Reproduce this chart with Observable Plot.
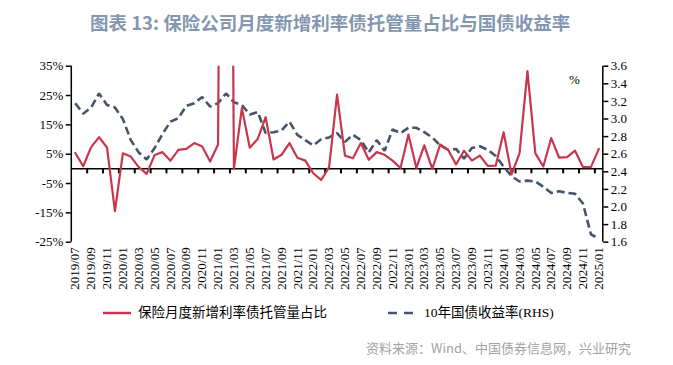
<!DOCTYPE html>
<html><head><meta charset="utf-8">
<script src="https://cdn.jsdelivr.net/npm/d3@7"></script>
<script src="https://cdn.jsdelivr.net/npm/@observablehq/plot@0.6"></script>
<style>
body{margin:0;background:#fff;width:673px;height:365px;position:relative;overflow:hidden;}
#title{position:absolute;left:90px;top:11px;font:bold 18.5px "Noto Sans CJK SC",sans-serif;color:#8397b1;white-space:nowrap;line-height:22px;}
#chart{position:absolute;left:0;top:50px;}
.lt{position:absolute;font:13.5px "Liberation Serif","Noto Sans CJK SC",serif;color:#000;white-space:nowrap;line-height:18px;}
.sw{position:absolute;}
#source{position:absolute;left:366px;top:339px;font:13px "Noto Sans CJK SC",sans-serif;color:#a3a3a3;white-space:nowrap;line-height:18px;}
</style>
</head><body>
<div id="title">图表 13: 保险公司月度新增利率债托管量占比与国债收益率</div>
<div id="chart"></div>
<svg class="sw" style="left:102px;top:304px" width="30" height="18"><line x1="1" y1="9" x2="29" y2="9" stroke="#c8364c" stroke-width="2.5"/></svg>
<div class="lt" style="left:138px;top:304px">保险月度新增利率债托管量占比</div>
<svg class="sw" style="left:387px;top:304px" width="28" height="18"><line x1="1" y1="9" x2="26" y2="9" stroke="#44546a" stroke-width="2.6" stroke-dasharray="9,7"/></svg>
<div class="lt" style="left:424px;top:304px">10年国债收益率(RHS)</div>
<div id="source">资料来源：Wind、中国债券信息网，兴业研究</div>
<script>
const months = ["2019/07","2019/08","2019/09","2019/10","2019/11","2019/12",
"2020/01","2020/02","2020/03","2020/04","2020/05","2020/06","2020/07","2020/08","2020/09","2020/10","2020/11","2020/12",
"2021/01","2021/02","2021/03","2021/04","2021/05","2021/06","2021/07","2021/08","2021/09","2021/10","2021/11","2021/12",
"2022/01","2022/02","2022/03","2022/04","2022/05","2022/06","2022/07","2022/08","2022/09","2022/10","2022/11","2022/12",
"2023/01","2023/02","2023/03","2023/04","2023/05","2023/06","2023/07","2023/08","2023/09","2023/10","2023/11","2023/12",
"2024/01","2024/02","2024/03","2024/04","2024/05","2024/06","2024/07","2024/08","2024/09","2024/10","2024/11","2024/12",
"2025/01"];
// 保险月度新增利率债托管量占比 (%)
const ratio = [5.4,0.9,7.4,10.8,7.3,-14.4,
5.3,4.2,0.6,-1.7,4.7,5.7,2.8,6.5,6.8,8.8,7.6,2.5,
8.3,400,0.0,20.7,7.2,10.2,17.6,3.2,4.8,8.8,3.8,2.8,
-1.5,-3.8,0.6,25.3,4.5,3.6,8.8,3.1,5.7,4.8,2.8,0.3,
11.7,0.3,8.0,0.0,8.3,6.5,1.5,6.2,2.8,4.5,1.0,1.1,
12.5,-1.9,5.3,33.3,5.3,0.8,10.5,3.8,4.0,6.2,0.6,0.6,
6.8];
// 10年国债收益率 (%, RHS)
const yield10 = [3.18,3.06,3.13,3.29,3.16,3.13,
3.00,2.76,2.62,2.54,2.67,2.83,2.97,3.01,3.15,3.18,3.25,3.14,
3.18,3.29,3.19,3.16,3.05,3.08,2.84,2.85,2.87,2.97,2.82,2.76,
2.70,2.77,2.79,2.84,2.74,2.82,2.76,2.62,2.76,2.64,2.88,2.84,
2.90,2.90,2.85,2.79,2.70,2.65,2.66,2.55,2.67,2.69,2.65,2.58,
2.46,2.35,2.29,2.30,2.29,2.23,2.16,2.18,2.16,2.15,2.04,1.69,
1.64];
const leftTicks = [-25,-15,-5,5,15,25,35];
const rightTicks = [1.6,1.8,2.0,2.2,2.4,2.6,2.8,3.0,3.2,3.4,3.6];
const leftDomain = [-25, 35];
const rightDomain = [1.6, 3.6];

const idx = d3.range(months.length);
const toL = d3.scaleLinear().domain(rightDomain).range(leftDomain);
const xDomain = [-0.5, months.length - 0.5];
const labelIdx = idx.filter(i => i % 2 === 0);
const boundaries = idx.filter(i => i % 2 === 1 && i < months.length - 1).map(i => i + 0.5);
const serif = "Liberation Serif, Times New Roman, serif";

const chart = Plot.plot({
  width: 673, height: 250,
  marginTop: 15.7, marginBottom: 58.3, marginLeft: 70.8, marginRight: 70.7,
  x: {type: "linear", domain: xDomain, axis: null},
  y: {domain: leftDomain},
  style: {fontFamily: serif, fontSize: "13px", color: "#000", background: "#fff"},
  marks: [
    Plot.ruleY([0], {stroke: "#000", strokeWidth: 1.5}),
    Plot.ruleX(boundaries, {x: d => d, y1: 0, y2: 0, insetBottom: -5, stroke: "#000", strokeWidth: 2}),
    Plot.line(idx, {x: i => i, y: i => toL(yield10[i]), stroke: "#44546a", strokeWidth: 2.6, strokeDasharray: "8,4", strokeLinecap: "butt", strokeLinejoin: "miter", clip: true}),
    Plot.line(idx, {x: i => i, y: i => ratio[i], stroke: "#c8364c", strokeWidth: 2.2, clip: true}),
    Plot.ruleX(xDomain, {stroke: "#000", strokeWidth: 1.5}),
    Plot.axisY(leftTicks, {anchor: "left", tickSize: 5, tickPadding: 3, tickFormat: d => d + "%", stroke: "#000", strokeWidth: 1.5, fontSize: 13, fontFamily: serif, label: null}),
    Plot.axisY(rightTicks.map(v => toL(v)), {anchor: "right", tickSize: 5, tickPadding: 3, tickFormat: d => toL.invert(d).toFixed(1), stroke: "#000", strokeWidth: 1.5, fontSize: 13, fontFamily: serif, label: null}),
    Plot.text(labelIdx, {x: i => i, text: i => months[i], frameAnchor: "bottom", rotate: -90, textAnchor: "end", lineAnchor: "middle", dy: 5, fontSize: 13, fontFamily: serif, fill: "#000"}),
    Plot.text(["%"], {frameAnchor: "top-right", dx: -23, dy: 9, fontSize: 13, fontFamily: serif, fill: "#000"})
  ]
});
document.getElementById("chart").appendChild(chart);
</script>
</body></html>
